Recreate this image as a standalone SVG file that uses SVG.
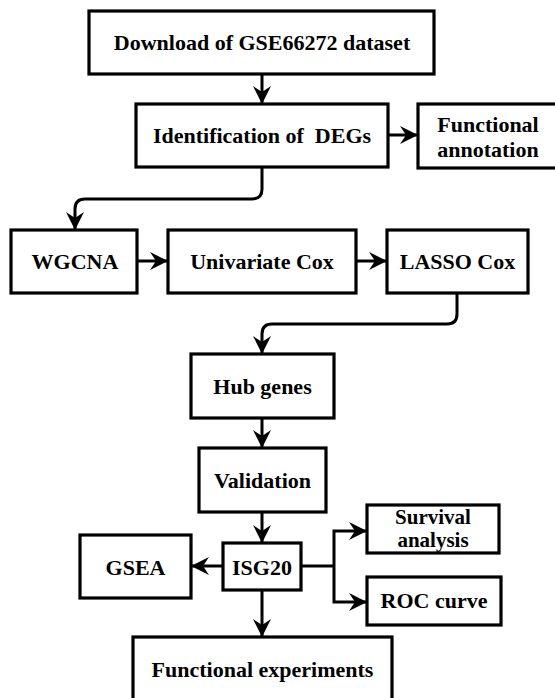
<svg xmlns="http://www.w3.org/2000/svg" width="555" height="698" viewBox="0 0 555 698">
<style>
.box{fill:#fff;stroke:#000;stroke-width:3.2}
.t{font-family:"Liberation Serif","Times New Roman",serif;font-weight:bold;font-size:22px;fill:#000;text-anchor:middle;white-space:pre}
.s{font-size:21px}
.c{fill:none;stroke:#000;stroke-width:3;marker-end:url(#ah)}
.c2{fill:none;stroke:#000;stroke-width:3}
</style>
<defs>
<marker id="ah" viewBox="-19 -10 20 20" markerWidth="20" markerHeight="20" refX="0" refY="0" orient="auto" markerUnits="userSpaceOnUse">
<path d="M0,0 L-18,-9 L-12,0 L-18,9 Z" fill="#000"/>
</marker>
</defs>
<rect width="555" height="698" fill="#fff"/>
<g id="connectors">
<path class="c" d="M262,74 V104"/>
<path class="c" d="M388,135 H418"/>
<path class="c" d="M262,168 V189 Q262,199 252,199 H85 Q75,199 75,209 V230"/>
<path class="c" d="M137,261 H168"/>
<path class="c" d="M356,261 H387"/>
<path class="c" d="M457,293 V314 Q457,324 447,324 H272 Q262,324 262,334 V354"/>
<path class="c" d="M262,418 V448"/>
<path class="c" d="M262,512 V543"/>
<path class="c" d="M223,566 H191"/>
<path class="c2" d="M301,566 H334"/>
<path class="c" d="M334,566 V531 H367"/>
<path class="c" d="M334,566 V602 H367"/>
<path class="c" d="M262,590 V637"/>
</g>
<g id="download"><rect class="box" x="89" y="11" width="345" height="63"/><text class="t" x="262" y="50">Download of GSE66272 dataset</text></g>
<g id="degs"><rect class="box" x="136" y="104" width="252" height="63"/><text class="t" x="262" y="143">Identification of  DEGs</text></g>
<g id="annotation"><rect class="box" x="418" y="104" width="142" height="64"/><text class="t" x="488" y="132">Functional</text><text class="t" x="488" y="157">annotation</text></g>
<g id="wgcna"><rect class="box" x="11" y="230" width="126" height="63"/><text class="t" x="75" y="269">WGCNA</text></g>
<g id="univariate"><rect class="box" x="168" y="230" width="188" height="63"/><text class="t" x="262" y="269">Univariate Cox</text></g>
<g id="lasso"><rect class="box" x="387" y="230" width="141" height="63"/><text class="t" x="457.5" y="269">LASSO Cox</text></g>
<g id="hub"><rect class="box" x="191" y="354" width="143" height="64"/><text class="t" x="262.5" y="394">Hub genes</text></g>
<g id="validation"><rect class="box" x="199" y="448" width="127" height="64"/><text class="t" x="262.5" y="488">Validation</text></g>
<g id="gsea"><rect class="box" x="80" y="535" width="111" height="63"/><text class="t" x="135.5" y="575">GSEA</text></g>
<g id="isg20"><rect class="box" x="223" y="543" width="78" height="47"/><text class="t" x="262" y="575">ISG20</text></g>
<g id="survival"><rect class="box" x="367" y="505" width="132" height="48"/><text class="t s" x="433" y="524">Survival</text><text class="t s" x="433" y="547">analysis</text></g>
<g id="roc"><rect class="box" x="367" y="577" width="134" height="48"/><text class="t" x="434" y="608">ROC curve</text></g>
<g id="experiments"><rect class="box" x="133" y="637" width="259" height="70"/><text class="t" x="262.5" y="677">Functional experiments</text></g>
</svg>
